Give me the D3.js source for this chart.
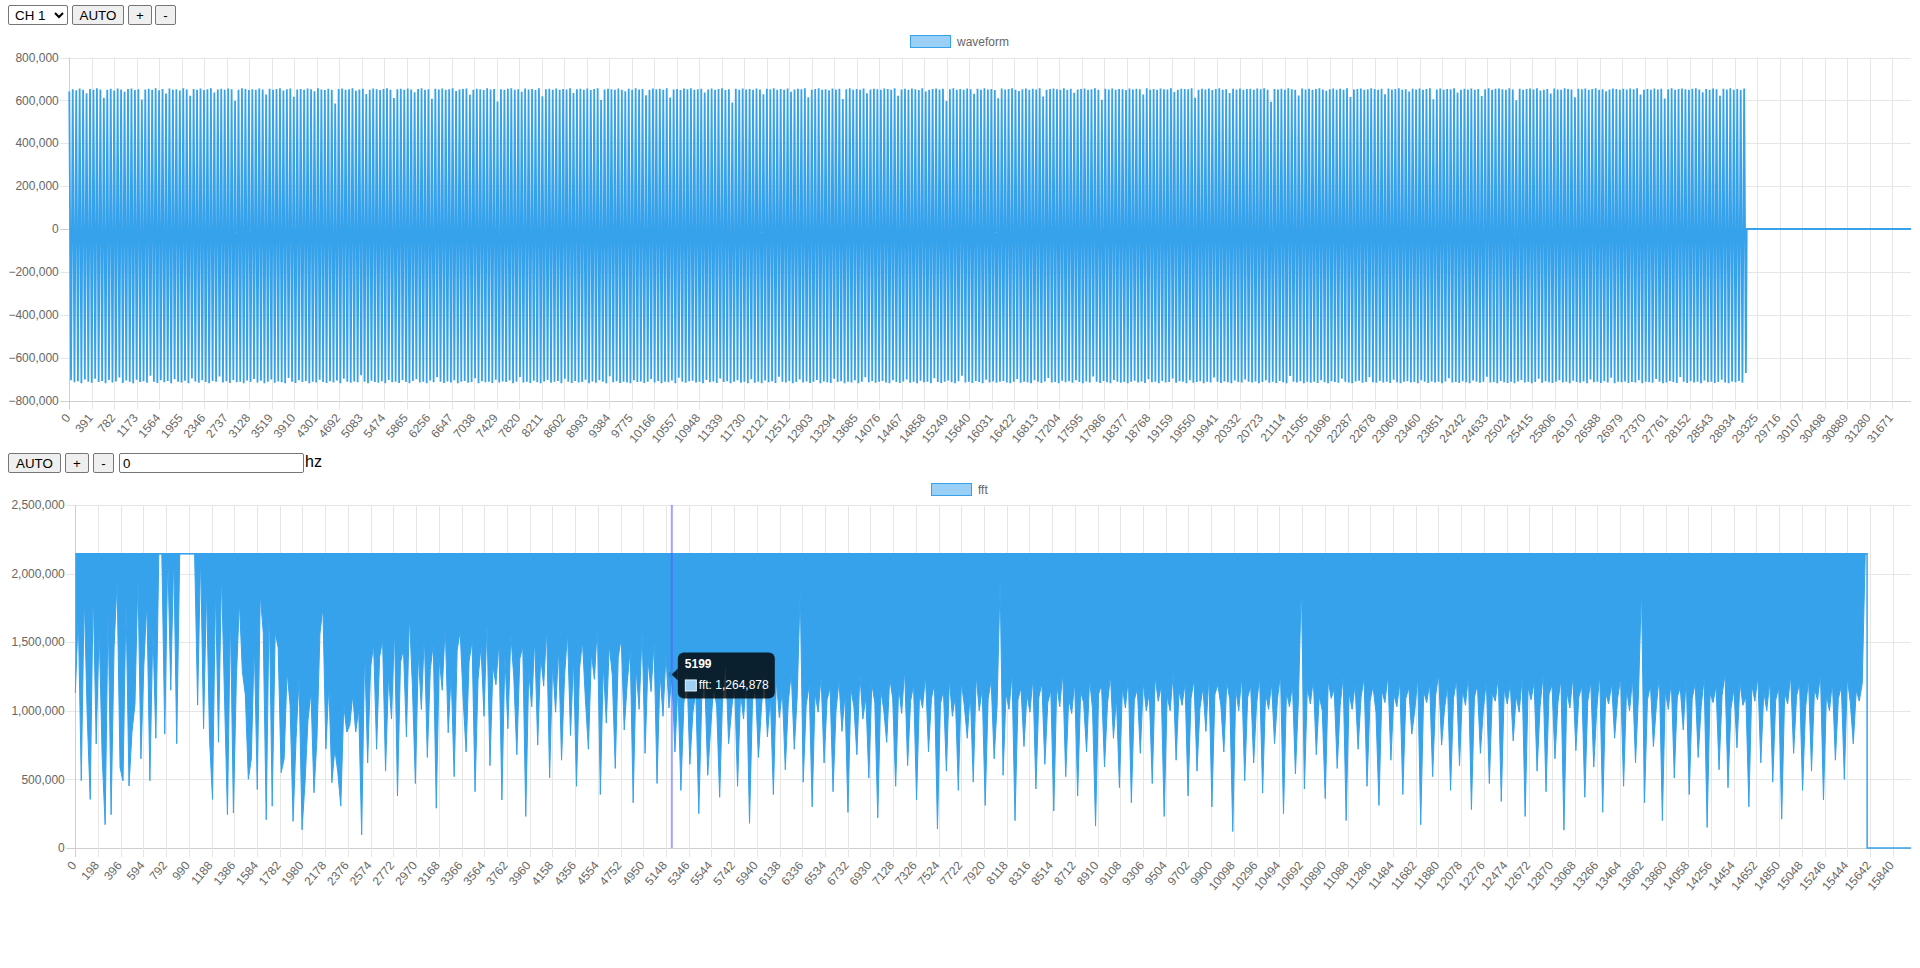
<!DOCTYPE html>
<html><head><meta charset="utf-8">
<script src="https://cdn.jsdelivr.net/npm/d3@7/dist/d3.min.js"></script>
<style>
html,body{margin:0;padding:0;background:#fff;width:1920px;height:968px;overflow:hidden;font-family:"Liberation Sans",Arial,sans-serif;}
#page{position:relative;width:1920px;height:968px;}
svg{position:absolute;left:0;top:0;}
.ctl{position:absolute;box-sizing:border-box;font:13.333px "Liberation Sans",Arial,sans-serif;color:#000;margin:0;}
button.ctl{background:#efefef;border:1px solid #767676;border-radius:2px;padding:0;height:20px;}
select.ctl{height:20px;border:1px solid #767676;border-radius:2px;background:#fff;padding:0 0 0 2px;}
input.ctl{height:20px;border:1px solid #767676;border-radius:2px;padding:1px 3px;background:#fff;}
#hz{position:absolute;left:305px;top:452px;font:16px "Liberation Sans",Arial,sans-serif;line-height:20px;color:#000;}
</style></head>
<body><div id="page">
<select class="ctl" style="left:8px;top:5px;width:60px"><option>CH 1</option></select>
<button class="ctl" style="left:72px;top:5px;width:52px">AUTO</button>
<button class="ctl" style="left:128px;top:5px;width:24px">+</button>
<button class="ctl" style="left:155px;top:5px;width:21px">-</button>
<button class="ctl" style="left:8px;top:453px;width:53px">AUTO</button>
<button class="ctl" style="left:65px;top:453px;width:24px">+</button>
<button class="ctl" style="left:93px;top:453px;width:21px">-</button>
<input class="ctl" style="left:119px;top:453px;width:185px" value="0">
<span id="hz">hz</span>
</div>
<script>
// ---------------- DATA ----------------
const UNIT = 1000; // envelope arrays below are in thousands
// waveform: 32000 samples; envelope read per 60-sample cycle (peak, trough)
const waveCount = 32000;
const waveStep = 60;
const waveHighK = [
641,652,647,655,650,633,653,649,656,651,612,650,654,646,655,651,640,653,
655,648,652,604,651,654,650,656,647,653,632,655,650,652,646,656,651,621,
653,650,655,648,652,656,637,651,654,649,655,652,598,650,656,653,648,652,
649,655,651,627,654,650,653,656,646,652,655,617,651,653,649,655,652,643,
656,651,648,654,650,585,653,655,649,652,656,645,651,654,630,650,655,652,
648,653,656,650,611,652,654,649,655,651,638,653,656,650,652,607,654,651,
655,649,652,656,644,651,653,655,626,650,654,652,648,656,651,653,595,652,
650,654,656,649,652,640,655,651,653,648,656,619,652,654,650,655,649,653,
651,656,634,652,654,650,655,648,653,656,602,651,654,652,649,655,650,642,
654,650,656,651,653,624,649,655,652,654,650,656,613,651,653,648,655,652,
656,649,652,654,637,651,655,650,653,656,648,652,590,654,650,655,651,653,
649,655,651,628,654,652,656,650,653,649,655,640,651,654,652,656,615,650,
653,656,650,652,647,655,651,654,606,652,656,650,653,649,655,633,651,654,
652,650,655,653,649,656,622,651,654,650,655,652,648,656,641,650,653,655,
651,654,597,652,656,650,653,649,655,652,631,654,650,656,651,653,648,610,
655,651,653,656,650,644,652,655,649,654,651,656,618,650,653,655,652,649,
656,650,654,636,651,653,655,650,652,656,649,603,654,651,655,650,653,652,
648,655,651,654,652,627,656,650,653,649,655,652,651,656,639,650,654,653,
652,656,612,650,654,651,655,648,653,656,650,652,634,654,651,655,650,653,
654,649,655,652,656,650,593,653,651,654,649,656,652,650,623,655,651,654,
650,653,656,651,645,652,655,649,654,650,656,616,651,653,655,650,652,656,
653,650,654,629,655,651,653,656,650,652,641,654,651,655,649,653,656,605,
651,655,650,653,652,656,637,650,654,651,655,649,653,620,652,656,650,654,
655,652,649,656,651,600,654,650,653,655,651,656,646,650,653,632,655,651,
650,656,653,651,614,654,652,655,649,653,656,650,652,643,651,655,653,650,
654,651,655,652,656,627,650,653,649,655,651,654,609,652,656,650,653,655,
652,649,654,656,651,638,653,650,655,652,621,654,651,656,650,653,648,655];
const waveLowK = [
-706,-715,-710,-719,-702,-713,-717,-698,-714,-709,-720,-704,-716,-711,-693,-718,-707,-713,
-719,-703,-714,-710,-717,-685,-712,-718,-706,-715,-709,-720,-701,-713,-716,-708,-719,-697,
-711,-717,-705,-714,-719,-709,-713,-688,-716,-710,-718,-704,-715,-712,-720,-707,-714,-700,
-716,-708,-719,-713,-702,-717,-711,-715,-720,-695,-713,-718,-706,-714,-709,-719,-712,-716,
-703,-714,-718,-710,-716,-707,-720,-699,-713,-717,-711,-715,-682,-712,-719,-708,-714,-717,
-710,-719,-704,-715,-712,-718,-706,-714,-720,-709,-701,-716,-713,-719,-707,-715,-692,-713,
-718,-711,-716,-705,-719,-713,-709,-717,-714,-696,-720,-710,-715,-712,-718,-703,-716,-711,
-714,-707,-720,-713,-690,-716,-712,-718,-708,-715,-719,-711,-704,-717,-713,-709,-720,-698,
-712,-718,-709,-716,-714,-703,-719,-711,-717,-706,-713,-720,-687,-715,-710,-718,-712,-716,
-719,-705,-714,-711,-718,-713,-700,-716,-709,-720,-712,-715,-707,-719,-694,-713,-717,-710,
-708,-716,-713,-719,-704,-715,-711,-718,-697,-714,-710,-720,-713,-706,-717,-712,-719,-701,
-717,-712,-720,-707,-715,-710,-718,-689,-713,-716,-709,-719,-714,-702,-716,-711,-718,-713,
-704,-719,-711,-715,-718,-699,-714,-710,-720,-712,-716,-706,-719,-713,-691,-715,-709,-717,
-713,-709,-716,-720,-705,-714,-718,-711,-702,-717,-713,-719,-708,-715,-712,-720,-696,-714,
-718,-712,-707,-715,-719,-710,-684,-716,-713,-718,-709,-714,-720,-703,-716,-711,-717,-712,
-709,-716,-719,-713,-700,-717,-712,-715,-719,-706,-713,-718,-711,-695,-716,-714,-720,-708,
-715,-710,-717,-705,-714,-719,-711,-716,-688,-713,-718,-709,-715,-720,-704,-712,-717,-714,
-720,-713,-708,-716,-711,-718,-701,-715,-712,-719,-709,-716,-714,-697,-717,-710,-713,-719,
-706,-717,-714,-710,-719,-712,-716,-693,-713,-718,-711,-715,-720,-707,-714,-716,-702,-712,
-716,-711,-719,-714,-705,-717,-713,-718,-709,-715,-720,-686,-712,-716,-710,-719,-713,-717,
-712,-718,-706,-715,-719,-710,-714,-717,-699,-713,-716,-720,-711,-708,-717,-714,-692,-715,
-717,-709,-716,-712,-718,-703,-715,-719,-713,-710,-716,-714,-720,-705,-712,-718,-711,-716,
-713,-719,-711,-696,-716,-714,-718,-710,-715,-720,-707,-713,-717,-712,-689,-716,-714,-719,
-709,-715,-718,-713,-720,-711,-704,-716,-712,-719,-714,-698,-717,-710,-715,-718,-713,-706,
-716,-712,-719,-708,-714,-717,-711,-720,-702,-715,-713,-718,-710,-716,-694,-719,-712,-715,
-711,-718,-714,-716,-705,-719,-712,-715,-717,-700,-713,-720,-716,-709,-714,-718,-690,-713,
-718,-710,-716,-713,-719,-707,-715,-712,-718,-714,-703,-716,-719,-711,-715,-709,-717,-672];
const waveTailIdx = [29145, 31999];
const waveTailVal = [0, 0];
const waveYTicks = [-800000,-600000,-400000,-200000,0,200000,400000,600000,800000];
const waveXTicks = [0,391,782,1173,1564,1955,2346,2737,3128,3519,3910,4301,4692,5083,5474,5865,6256,6647,7038,7429,7820,8211,8602,8993,9384,9775,10166,10557,10948,11339,11730,12121,12512,12903,13294,13685,14076,14467,14858,15249,15640,16031,16422,16813,17204,17595,17986,18377,18768,19159,19550,19941,20332,20723,21114,21505,21896,22287,22678,23069,23460,23851,24242,24633,25024,25415,25806,26197,26588,26979,27370,27761,28152,28543,28934,29325,29716,30107,30498,30889,31280,31671];

// fft: 16000 bins; values saturate at fftClip; minimum of each 26-bin group
const fftCount = 16000;
const fftStep = 26;
const fftClip = 2145000;
const fftLowK = [
1130,1700,490,1850,956,354,1900,759,1600,674,170,1750,243,1460,1950,587,489,1800,452,845,
1050,1980,650,1340,1800,490,1600,800,2145,2145,830,2145,1150,2145,760,2145,2145,2145,2145,2145,
2145,1042,2145,870,1900,796,354,1900,771,2000,1116,243,1700,256,1240,1800,1288,1116,501,649,
1497,427,1850,1571,206,1800,305,1571,1460,550,649,1288,1042,194,796,1239,133,476,932,1140,
403,796,1559,1755,722,1190,476,722,550,305,1042,845,894,1116,845,1017,96,1450,620,1320,
1480,720,1390,1520,560,1260,940,1610,380,1350,1450,810,1700,1180,470,1420,1010,1550,660,1300,
1490,290,1380,1150,1620,840,1270,520,1440,1580,1090,700,1360,1510,410,1230,1470,960,1640,600,
1330,1190,1500,350,1410,870,1560,1240,680,1380,1470,230,1290,1030,1530,750,1400,1180,1600,510,
1350,990,1460,640,1250,1570,820,1380,450,1300,1510,1080,720,1420,1230,1620,390,1340,910,1480,
1260,580,1390,1530,860,1200,1450,330,1310,1010,1580,690,1370,1140,1500,470,1280,960,1410,1020,
1265,700,1180,420,1050,1320,610,980,1150,250,1090,1240,530,880,1190,1030,370,1120,1380,760,
1010,1210,450,1130,940,1260,180,1070,1180,660,1020,1300,810,1100,390,1230,950,1150,570,1060,
1280,720,1110,1890,480,1040,1190,300,1130,990,1250,620,1080,1170,410,1000,1220,850,1120,260,
1160,1030,680,1270,940,1100,510,1200,1060,220,1150,1010,770,1240,1090,450,1180,980,1300,600,
1070,1190,350,1130,1020,1260,700,1090,1200,140,1050,1150,560,1230,960,1110,420,1210,1040,800,
1140,480,1260,1000,1160,310,1090,1220,650,1040,1950,530,1130,1010,1270,200,1080,1170,740,1120,
990,1240,430,1100,1200,610,1060,1150,270,1190,1030,1280,520,1090,980,1210,380,1140,1060,700,
1230,1010,160,1120,1190,590,1050,1260,800,1100,440,1170,1020,1240,330,1080,1160,690,1210,1000,
1130,470,1250,1070,1180,230,1110,1000,1270,640,1150,1040,1200,380,1090,1230,560,1020,1170,850,
1260,300,1120,1190,1040,700,1210,1080,120,1160,1000,1250,490,1100,1180,620,1060,1240,400,1130,
1010,1200,760,1090,1270,250,1140,1030,1190,540,1080,1930,430,1170,1050,1230,680,1110,1000,360,
1220,1090,1160,580,1040,1250,200,1130,1010,1190,720,1100,1240,450,1070,1180,990,310,1150,1060,
1260,640,1120,1030,1210,390,1090,1170,830,1000,1240,170,1140,1060,1200,520,1110,1270,750,1020,
1180,420,1090,1230,600,1150,1040,1260,280,1100,1190,690,1010,1220,470,1130,1070,1250,340,1160,
1050,1200,780,1110,990,1240,230,1170,1080,1210,560,1030,1260,410,1120,1190,650,1060,1230,130,
1140,1020,1250,710,1100,1180,370,1070,1210,590,1010,1270,260,1130,1050,1200,800,1090,1240,450,
1160,1000,1230,620,1120,1900,330,1080,1190,740,1040,1260,200,1150,1010,1220,510,1100,1170,860,
1250,390,1090,1200,660,1030,1240,150,1130,1060,1180,570,1110,1270,440,1020,1160,730,1210,1040,
1100,300,1190,1070,1250,620,1140,1000,1220,480,1080,1170,210,1130,1050,1260,690,1110,1200,420,
1020,1230,560,1160,1080,1270,350,1120,1000,1210,640,1090,1180,500,1240,1060,760,1150,1070,1200];
const fftTailIdx = [15600, 15616, 15617, 15999];
const fftTailVal = [2145000, 2145000, 0, 0];
const fftYTicks = [0,500000,1000000,1500000,2000000,2500000];
const fftXTicks = [0,198,396,594,792,990,1188,1386,1584,1782,1980,2178,2376,2574,2772,2970,3168,3366,3564,3762,3960,4158,4356,4554,4752,4950,5148,5346,5544,5742,5940,6138,6336,6534,6732,6930,7128,7326,7524,7722,7920,8118,8316,8514,8712,8910,9108,9306,9504,9702,9900,10098,10296,10494,10692,10890,11088,11286,11484,11682,11880,12078,12276,12474,12672,12870,13068,13266,13464,13662,13860,14058,14256,14454,14652,14850,15048,15246,15444,15642,15840];
const hoverIdx = 5199;
const hoverVal = 1264878;

// ---------------- DRAW ----------------
const BLUE = '#36a2eb';
const LIGHT = 'rgba(54,162,235,0.5)';
const GRID = '#e6e6e6';
const AXIS = '#cfcfcf';
const fmt = d3.format(',');
const svg = d3.select('#page').insert('svg', ':first-child').attr('width', 1920).attr('height', 968);

function frame(o) {
  const g = svg.append('g');
  const L = o.x.range()[0], R = o.x.range()[1];
  const T = o.y.range()[1], B = o.y.range()[0];
  g.selectAll('line.h').data(o.yTicks).join('line')
    .attr('x1', L - 9).attr('x2', R)
    .attr('y1', d => Math.round(o.y(d)) + 0.5).attr('y2', d => Math.round(o.y(d)) + 0.5)
    .attr('stroke', d => (d === o.yTicks[0] || d === 0) ? AXIS : GRID).attr('stroke-width', 1);
  g.selectAll('line.v').data(o.xTicks).join('line')
    .attr('x1', d => Math.round(o.x(d)) + 0.5).attr('x2', d => Math.round(o.x(d)) + 0.5)
    .attr('y1', T).attr('y2', B + 9)
    .attr('stroke', (d, i) => i === 0 ? AXIS : GRID).attr('stroke-width', 1);
  g.selectAll('text.y').data(o.yTicks).join('text')
    .attr('x', L - 10.5).attr('y', d => o.y(d)).attr('dy', '0.35em')
    .attr('text-anchor', 'end').attr('fill', '#666')
    .style('font', '12px "Liberation Sans", Arial, sans-serif')
    .text(d => fmt(d));
  g.selectAll('text.x').data(o.xTicks).join('text')
    .attr('transform', d => `translate(${o.x(d) - 1.5},${B + 15}) rotate(-50)`)
    .attr('dy', '0.35em').attr('text-anchor', 'end').attr('fill', '#666')
    .style('font', '12px "Liberation Sans", Arial, sans-serif')
    .text(d => d);
  const lg = svg.append('g');
  lg.append('rect').attr('x', o.legendX + 0.5).attr('y', o.legendY + 0.5).attr('width', 40).attr('height', 12)
    .attr('fill', LIGHT).attr('stroke', BLUE).attr('stroke-width', 1);
  lg.append('text').attr('x', o.legendX + 47).attr('y', o.legendY + 6.5).attr('dy', '0.35em')
    .attr('fill', '#666').style('font', '12px "Liberation Sans", Arial, sans-serif').text(o.label);
  return g;
}

// ---- waveform chart ----
const xW = d3.scaleLinear().domain([0, waveCount - 1]).range([69.3, 1911]);
const yW = d3.scaleLinear().domain([-800000, 800000]).range([400.5, 57.5]);
frame({x: xW, y: yW, xTicks: waveXTicks, yTicks: waveYTicks, legendX: 910, legendY: 35, label: 'waveform'});
const wavePts = [];
const nW = Math.min(waveHighK.length, waveLowK.length);
for (let i = 0; i < nW; i++) {
  wavePts.push([i * waveStep, waveHighK[i] * UNIT]);
  wavePts.push([i * waveStep + waveStep / 2, waveLowK[i] * UNIT]);
}
waveTailIdx.forEach((t, i) => wavePts.push([t, waveTailVal[i]]));
svg.append('path').datum(wavePts)
  .attr('d', d3.line().x(d => xW(d[0])).y(d => yW(d[1])))
  .attr('fill', 'none').attr('stroke', BLUE).attr('stroke-width', 1.8).attr('stroke-linejoin', 'miter');

// ---- fft chart ----
const xF = d3.scaleLinear().domain([0, fftCount - 1]).range([75.3, 1911]);
const yF = d3.scaleLinear().domain([0, 2500000]).range([848, 505]);
frame({x: xF, y: yF, xTicks: fftXTicks, yTicks: fftYTicks, legendX: 931, legendY: 483, label: 'fft'});
const fftPts = fftLowK.map((v, i) => [i * fftStep, v * UNIT]);
svg.append('path').datum(fftPts.concat([[fftTailIdx[0], fftTailVal[0]]]))
  .attr('d', d3.area().x(d => xF(d[0])).y0(yF(fftClip)).y1(d => yF(d[1])))
  .attr('fill', BLUE).attr('stroke', 'none');
svg.append('path').datum(fftPts.concat([[fftTailIdx[0], fftTailVal[0]]]))
  .attr('d', d3.line().x(d => xF(d[0])).y(d => yF(d[1])))
  .attr('fill', 'none').attr('stroke', BLUE).attr('stroke-width', 1);
svg.append('path').datum(fftTailIdx.map((t, i) => [t, fftTailVal[i]]))
  .attr('d', d3.line().x(d => xF(d[0])).y(d => yF(d[1])))
  .attr('fill', 'none').attr('stroke', BLUE).attr('stroke-width', 1.5);
svg.append('line')
  .attr('x1', xF(0)).attr('x2', xF(fftTailIdx[1]))
  .attr('y1', yF(fftClip)).attr('y2', yF(fftClip))
  .attr('stroke', BLUE).attr('stroke-width', 1.5);

// ---- hover crosshair + tooltip ----
const hx = xF(hoverIdx), hy = yF(hoverVal);
svg.append('line').attr('x1', hx).attr('x2', hx).attr('y1', yF(2500000)).attr('y2', yF(0))
  .attr('stroke', 'rgba(80,90,255,0.55)').attr('stroke-width', 2);
svg.append('circle').attr('cx', hx).attr('cy', hy).attr('r', 4)
  .attr('fill', '#2f8be0').attr('stroke', BLUE).attr('stroke-width', 1);
const tt = svg.append('g').attr('transform', `translate(${hx + 6},${hy - 22})`);
tt.append('path').attr('d', 'M0,16 L-6,22 L0,28 Z').attr('fill', 'rgba(0,0,0,0.8)');
tt.append('rect').attr('x', 0).attr('y', 0).attr('width', 97).attr('height', 46).attr('rx', 6)
  .attr('fill', 'rgba(0,0,0,0.8)');
tt.append('text').attr('x', 7).attr('y', 16).attr('fill', '#fff')
  .style('font', 'bold 12px "Liberation Sans", Arial, sans-serif').text(hoverIdx);
tt.append('rect').attr('x', 7.5).attr('y', 27.5).attr('width', 11).attr('height', 11)
  .attr('fill', '#9dd1f6').attr('stroke', '#e8f4fd').attr('stroke-width', 1);
tt.append('text').attr('x', 21).attr('y', 37).attr('fill', '#fff')
  .style('font', '12px "Liberation Sans", Arial, sans-serif').text('fft: ' + fmt(hoverVal));
</script>
</body></html>
